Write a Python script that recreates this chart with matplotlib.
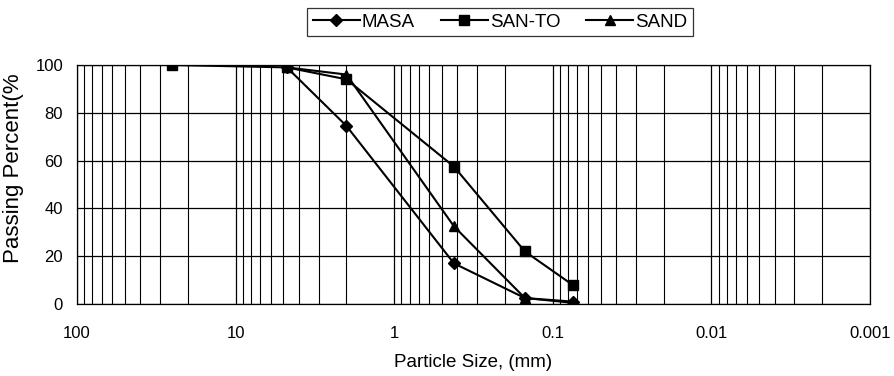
import matplotlib
matplotlib.use("Agg")
import matplotlib.pyplot as plt
from matplotlib.ticker import LogLocator, FixedLocator, NullFormatter

plt.rcParams['font.family'] = ['Liberation Sans', 'DejaVu Sans']

sizes_masa = [4.75, 2.0, 0.42, 0.15, 0.075]
masa = [99, 74.5, 17, 2.5, 1]
sizes_santo = [25, 4.75, 2.0, 0.42, 0.15, 0.075]
santo = [100, 99, 94, 57.5, 22, 8]
sizes_sand = [4.75, 2.0, 0.42, 0.15, 0.075]
sand = [99, 96, 32.5, 2.5, 0.5]

xticks = [100, 10, 1, 0.1, 0.01, 0.001]
xticklabels = ["100", "10", "1", "0.1", "0.01", "0.001"]
yticks = [0, 20, 40, 60, 80, 100]

fig = plt.figure(figsize=(8.94, 3.76), dpi=100)
ax = fig.add_axes([77/894, 1-304/376, (870-77)/894, (304-65)/376])

ax.plot(sizes_masa, masa, color='black', marker='D', markersize=6, lw=1.5, label='MASA')
ax.plot(sizes_santo, santo, color='black', marker='s', markersize=7, lw=1.5, label='SAN-TO')
ax.plot(sizes_sand, sand, color='black', marker='^', markersize=7, lw=1.5, label='SAND')

ax.set_xscale('log')
ax.set_xlim(100, 0.001)
ax.set_ylim(0, 100)
ax.xaxis.set_major_locator(FixedLocator(xticks))
ax.set_xticklabels(xticklabels)
ax.xaxis.set_minor_locator(LogLocator(base=10, subs=range(2, 10), numticks=20))
ax.xaxis.set_minor_formatter(NullFormatter())
ax.set_yticks(yticks)
ax.grid(True, which='major', axis='both', color='black', lw=0.9)
ax.grid(True, which='minor', axis='x', color='black', lw=0.8)
ax.tick_params(which='both', length=0, labelsize=12)
ax.tick_params(axis='x', pad=16)
ax.tick_params(axis='y', pad=10)
for s in ax.spines.values():
    s.set_linewidth(0.9)

ax.set_xlabel('Particle Size, (mm)', fontsize=13.5, labelpad=9)
ax.set_ylabel('Passing Percent(%', fontsize=16, labelpad=8)
ax.yaxis.label.set_position((0, 0.57))

leg = fig.legend(loc='upper center', bbox_to_anchor=(500/894, 1-8/376), ncol=3,
                 frameon=True, fancybox=False, edgecolor='black', fontsize=13.5,
                 handlelength=2.5, columnspacing=1.4, borderpad=0.3, handletextpad=0.1,
                 borderaxespad=0)
leg.get_frame().set_linewidth(0.9)

fig.savefig('out.png', dpi=100)
